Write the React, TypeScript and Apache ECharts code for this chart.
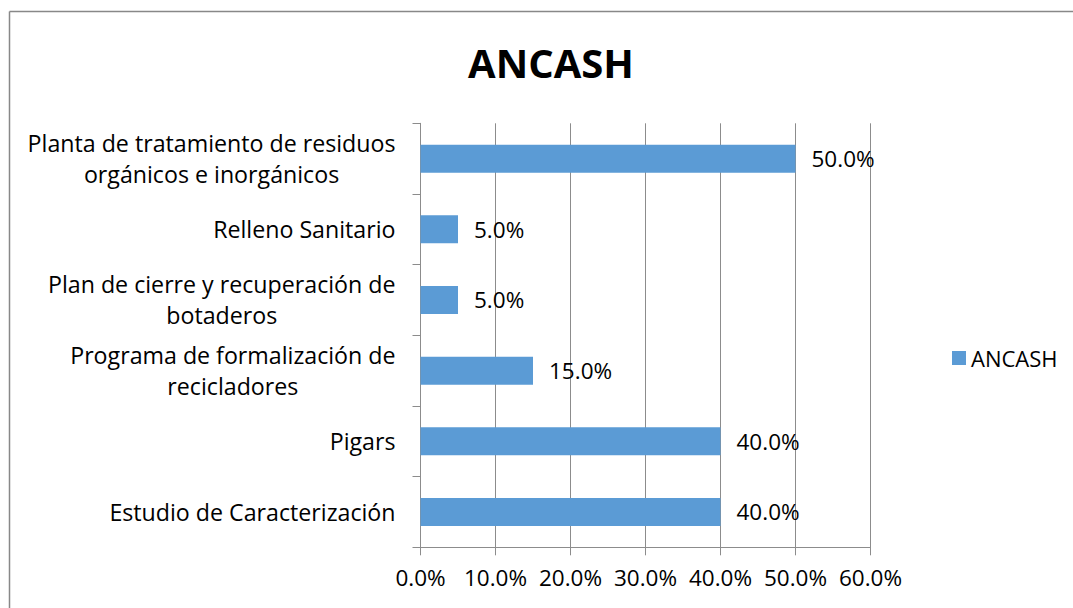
import React, { useEffect, useRef } from "react";
import * as echarts from "echarts";

const title = "ANCASH";
const seriesName = "ANCASH";
const categories = [
  "Estudio de Caracterización",
  "Pigars",
  "Programa de formalización de\nrecicladores",
  "Plan de cierre y recuperación de\nbotaderos",
  "Relleno Sanitario",
  "Planta de tratamiento de residuos\norgánicos e inorgánicos",
];
const values = [0.4, 0.4, 0.15, 0.05, 0.05, 0.5];
const xMin = 0;
const xMax = 0.6;
const xInterval = 0.1;

const FONT = "'Open Sans', 'Noto Sans', sans-serif";
const pct = (v: number) => (v * 100).toFixed(1) + "%";

export default function App() {
  const ref = useRef<HTMLDivElement>(null);
  useEffect(() => {
    document.body.style.margin = "0";
    if (!ref.current) return;
    const chart = echarts.init(ref.current, undefined, { renderer: "svg" });
    const gray = "#8c8c8c";
    chart.setOption({
      animation: false,
      backgroundColor: "#ffffff",
      textStyle: { fontFamily: FONT },
      title: {
        text: title,
        left: 546,
        top: 37,
        textAlign: "center",
        textStyle: { fontFamily: FONT, fontSize: 40, fontWeight: "bold", color: "#000" },
      },
      legend: {
        data: [seriesName],
        left: 947,
        top: 342,
        itemWidth: 14,
        itemHeight: 14,
        icon: "rect",
        textStyle: { fontFamily: FONT, fontSize: 22, color: "#000" },
      },
      grid: { left: 420.5, top: 123.3, width: 450, height: 424, containLabel: false },
      xAxis: {
        type: "value",
        min: xMin,
        max: xMax,
        interval: xInterval,
        axisLine: { show: true, lineStyle: { color: gray, width: 1 } },
        axisTick: { show: true, length: 8, lineStyle: { color: gray } },
        splitLine: { show: true, lineStyle: { color: gray, width: 1 } },
        axisLabel: {
          formatter: (v: number) => pct(v),
          fontFamily: FONT,
          fontSize: 22.5,
          color: "#000",
          margin: 19,
          showMaxLabel: true,
        },
      },
      yAxis: {
        type: "category",
        data: categories,
        axisLine: { show: true, lineStyle: { color: gray, width: 1 } },
        axisTick: { show: true, length: 8, lineStyle: { color: gray } },
        splitLine: { show: false },
        axisLabel: {
          margin: 25,
          align: "right",
          formatter: (v: string) =>
            v
              .split("\n")
              .map((l) => `{c|${l}}`)
              .join("\n"),
          rich: {
            c: { align: "center", fontFamily: FONT, fontSize: 23.2, color: "#000", lineHeight: 31 },
          },
        },
      },
      series: [
        {
          name: seriesName,
          type: "bar",
          data: values,
          barWidth: 28,
          itemStyle: { color: "#5B9BD5" },
          label: {
            show: true,
            position: "right",
            distance: 16,
            formatter: (p: any) => pct(p.value),
            fontFamily: FONT,
            fontSize: 22.5,
            color: "#000",
          },
        },
      ],
      graphic: [
        {
          type: "line",
          shape: { x1: 9.5, y1: 11.5, x2: 1073, y2: 11.5 },
          style: { stroke: "#888888", lineWidth: 1.5 },
          silent: true,
        },
        {
          type: "line",
          shape: { x1: 9.5, y1: 11.5, x2: 9.5, y2: 608 },
          style: { stroke: "#888888", lineWidth: 1.5 },
          silent: true,
        },
      ],
    });
    return () => chart.dispose();
  }, []);
  return <div ref={ref} style={{ width: 1073, height: 608 }} />;
}
